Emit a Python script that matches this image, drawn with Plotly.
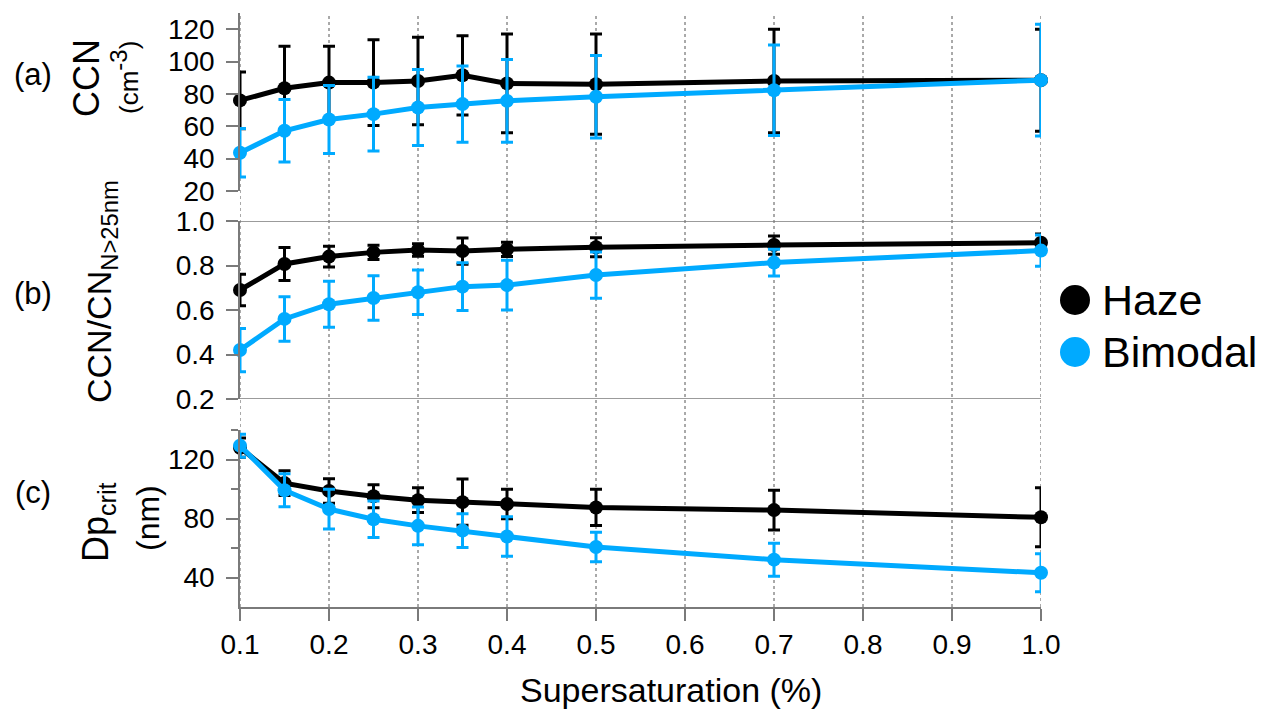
import plotly.graph_objects as go

# ---------------- data ----------------
supersat = [0.1, 0.15, 0.2, 0.25, 0.3, 0.35, 0.4, 0.5, 0.7, 1.0]

ccn_haze = [76, 83.5, 87, 87, 88, 91.5, 86.5, 86, 88, 88.5]
ccn_haze_err = [17.5, 26, 22.5, 26.5, 27, 24.5, 30.5, 31, 32, 31.5]
ccn_bimodal = [43.6, 57.2, 64.2, 67.5, 71.6, 73.7, 75.7, 78.2, 82.3, 88.5]
ccn_bimodal_err = [15, 19.3, 21, 22.8, 23.5, 23.5, 25.5, 25.5, 28, 34.5]

ratio_haze = [0.69, 0.807, 0.84, 0.859, 0.87, 0.865, 0.873, 0.882, 0.892, 0.902]
ratio_haze_err = [0.071, 0.074, 0.047, 0.032, 0.028, 0.059, 0.032, 0.043, 0.041, 0.04]
ratio_bimodal = [0.42, 0.56, 0.626, 0.654, 0.68, 0.705, 0.712, 0.757, 0.813, 0.867]
ratio_bimodal_err = [0.097, 0.10, 0.103, 0.10, 0.10, 0.107, 0.112, 0.104, 0.06, 0.07]

dp_haze = [128, 104, 98.7, 95.1, 92.4, 91.1, 89.8, 87.5, 85.7, 80.8]
dp_haze_err = [6.5, 8.4, 8.3, 7.8, 8.4, 15.7, 10, 12.3, 13.5, 20]
dp_bimodal = [129.4, 99.2, 86.4, 79.5, 75, 71.8, 67.8, 60.7, 52.1, 43.2]
dp_bimodal_err = [7.8, 11.2, 13.5, 12.3, 12.8, 11.4, 13.4, 10, 11.2, 12.9]

x_ticks = [0.1, 0.2, 0.3, 0.4, 0.5, 0.6, 0.7, 0.8, 0.9, 1.0]
x_ticktext = ["0.1", "0.2", "0.3", "0.4", "0.5", "0.6", "0.7", "0.8", "0.9", "1.0"]
series_names = ["Haze", "Bimodal"]

# ---------------- style ----------------
W, H = 1263, 709
L, R, T, B = 240, 222, 13, 102
PW, PH = W - L - R, H - T - B
BLACK = "#000000"
BLUE = "#00AAFF"
AXC = "#7a7a7a"
FONT = "Liberation Sans, Arial, sans-serif"


def px(x):
    return (x - L) / PW


def py(y):
    return (H - B - y) / PH


def dom(top, bottom):
    return [py(bottom), py(top)]


fig = go.Figure()

panels = [
    ("y", ccn_haze, ccn_haze_err, ccn_bimodal, ccn_bimodal_err),
    ("y2", ratio_haze, ratio_haze_err, ratio_bimodal, ratio_bimodal_err),
    ("y3", dp_haze, dp_haze_err, dp_bimodal, dp_bimodal_err),
]
for yax, h, he, b, be in panels:
    for vals, errs, col, name in [(h, he, BLACK, series_names[0]), (b, be, BLUE, series_names[1])]:
        fig.add_trace(go.Scatter(
            x=supersat, y=vals, xaxis="x", yaxis=yax, name=name, showlegend=False,
            mode="lines+markers", cliponaxis=False,
            line=dict(color=col, width=5),
            marker=dict(color=col, size=14),
            error_y=dict(type="data", array=errs, visible=True, color=col, thickness=3, width=6),
        ))

# vertical dotted gridlines through all panels
for xv in x_ticks:
    fig.add_shape(type="line", xref="x", yref="paper", x0=xv, x1=xv, y0=0, y1=1,
                  line=dict(color="#555555", width=1, dash="dot"), layer="below")

# panel b frame lines (top & bottom)
for yv in [1.0, 0.2]:
    fig.add_shape(type="line", xref="x", yref="y2", x0=0.1, x1=1.0, y0=yv, y1=yv,
                  line=dict(color=AXC, width=1.5), layer="below")

tickfont = dict(family=FONT, size=28, color="black")
common_y = dict(showgrid=False, zeroline=False, showline=True, linecolor=AXC, linewidth=1.5,
                ticks="outside", ticklen=12, tickcolor=AXC, tickwidth=1.5,
                tickfont=tickfont, anchor="x", ticklabelstandoff=6, automargin=False)

fig.update_layout(
    width=W, height=H,
    margin=dict(l=L, r=R, t=T, b=B, autoexpand=False),
    paper_bgcolor="white", plot_bgcolor="white",
    font=dict(family=FONT, color="black"),
    xaxis=dict(range=[0.1, 1.0], anchor="y3", showgrid=False, zeroline=False,
               showline=True, linecolor=AXC, linewidth=1.5,
               ticks="outside", ticklen=12, tickcolor=AXC, tickwidth=1.5,
               tickvals=x_ticks, ticktext=x_ticktext, tickfont=tickfont,
               ticklabelstandoff=0, automargin=False),
    yaxis=dict(domain=dom(13, 191), range=[20, 130], tickvals=[20, 40, 60, 80, 100, 120], **common_y),
    yaxis2=dict(domain=dom(221, 399), range=[0.2, 1.0], tickvals=[0.2, 0.4, 0.6, 0.8, 1.0],
                ticktext=["0.2", "0.4", "0.6", "0.8", "1.0"], **common_y),
    yaxis3=dict(domain=dom(430, 607), range=[20, 140], tickvals=[40, 80, 120],
                minor=dict(tickvals=[60, 100, 140], ticks="outside", ticklen=7,
                           tickcolor=AXC, tickwidth=1.5),
                **common_y),
)


def ann(text, x, y, size, angle=0, xanchor="center"):
    fig.add_annotation(text=text, xref="paper", yref="paper", x=px(x), y=py(y),
                       xanchor=xanchor, yanchor="middle", showarrow=False, textangle=angle,
                       font=dict(family=FONT, size=size, color="black"))


# panel letters
ann("(a)", 33, 74, 31)
ann("(b)", 33, 293, 31)
ann("(c)", 33, 492, 31)
# y titles
ann("CCN", 86, 78, 36, -90)
ann("(cm<sup><span style='font-size:24px'>-3</span></sup>)", 124, 78, 26, -90)
ann("CCN/CN<sub>N&gt;25nm</sub>", 101, 292, 34, -90)
ann("Dp<sub>crit</sub>", 98, 522, 36, -90)
ann("(nm)", 148, 518, 32, -90)
# x title
ann("Supersaturation (%)", 671, 690, 34)

# legend
for name, col, yc in [(series_names[0], BLACK, 300), (series_names[1], BLUE, 352)]:
    r = 15
    fig.add_shape(type="circle", xref="paper", yref="paper",
                  x0=px(1075 - r), x1=px(1075 + r), y0=py(yc + r), y1=py(yc - r),
                  fillcolor=col, line=dict(color=col, width=0))
    ann(name, 1100, yc, 43, 0, "left")

fig.write_html("out.html", config={"displayModeBar": False},
               post_script="document.body.style.margin='0';document.body.style.overflow='hidden';")
